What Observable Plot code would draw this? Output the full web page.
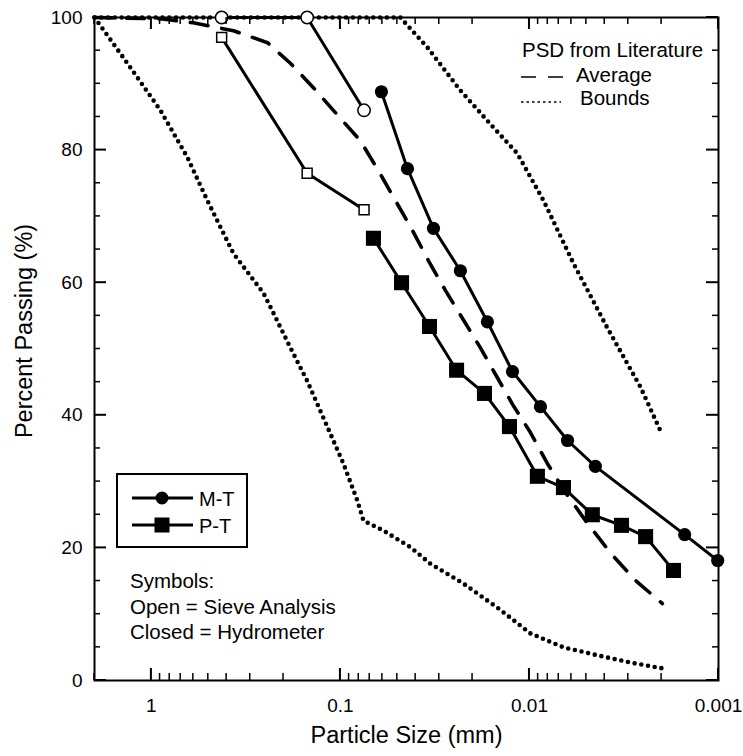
<!DOCTYPE html>
<html>
<head>
<meta charset="utf-8">
<script src="https://cdn.jsdelivr.net/npm/d3@7"></script>
<script src="https://cdn.jsdelivr.net/npm/@observablehq/plot@0.6"></script>
<style>
  html, body { margin: 0; padding: 0; background: #fff; }
  #chart svg { display: block; }
</style>
</head>
<body>
<div id="chart"></div>
<script>
// Particle size distribution: sieve (open) and hydrometer (closed) results
// for two soils, against the average and bounds reported in the literature.

// Sieve analysis (mm, % passing)
const sieveSize = [0.425, 0.15, 0.075];
const mtSieve = [100, 100, 86];
const ptSieve = [97, 76.5, 71];

// Hydrometer analysis
const mtHydroSize = [0.0607, 0.0442, 0.0322, 0.0232, 0.0167, 0.0123, 0.00875, 0.00629, 0.00448, 0.00151, 0.00101];
const mtHydro = [88.8, 77.2, 68.2, 61.8, 54.1, 46.6, 41.3, 36.2, 32.3, 22.0, 18.1];
const ptHydroSize = [0.0669, 0.0475, 0.0338, 0.0243, 0.0173, 0.01276, 0.00908, 0.00661, 0.00465, 0.00326, 0.00243, 0.00173];
const ptHydro = [66.7, 60.0, 53.4, 46.8, 43.3, 38.3, 30.8, 29.1, 25.0, 23.4, 21.7, 16.6];

// Literature PSD: average curve
const avgSize = [2, 0.896, 0.6, 0.368, 0.243, 0.184, 0.139, 0.109, 0.0784, 0.063, 0.0512, 0.0416, 0.0342, 0.0278, 0.0226, 0.0182, 0.0148, 0.0122, 0.00988, 0.00803, 0.00629, 0.00493, 0.00372, 0.00275, 0.00198];
const avgPct = [100, 99.8, 99.2, 98.0, 96.2, 93.1, 89.4, 86.0, 81.4, 76.9, 72.4, 67.9, 63.3, 58.8, 54.6, 50.2, 45.7, 41.5, 37.4, 32.7, 27.9, 23.7, 19.2, 15.1, 11.6];

// Literature PSD: lower (coarse) and upper (fine) bounds
const lowerSize = [2, 1.34, 0.896, 0.645, 0.506, 0.368, 0.255, 0.226, 0.184, 0.15, 0.117, 0.0964, 0.0813, 0.0755, 0.0592, 0.0426, 0.0334, 0.0223, 0.0148, 0.00988, 0.00661, 0.00437, 0.00292, 0.00195];
const lowerPct = [100, 93.1, 86.0, 78.9, 72.4, 64.4, 58.4, 55.4, 50.2, 45.2, 38.2, 32.7, 27.1, 24.1, 22.6, 20.1, 17.6, 14.6, 11.0, 7.1, 5.0, 3.8, 2.7, 1.8];
const upperSize = [2, 0.0482, 0.0347, 0.0232, 0.0155, 0.0116, 0.00843, 0.00585, 0.00386, 0.00259, 0.00198];
const upperPct = [100, 100, 95.5, 89.0, 83.4, 79.5, 72.4, 62.9, 53.1, 44.3, 37.0];

// Axis ticks
const xTickLabels = [1, 0.1, 0.01, 0.001];
const yTickLabels = [0, 20, 40, 60, 80, 100];

const zip = (xs, ys) => xs.map((x, i) => ({size: x, pct: ys[i]}));

const W = 743, H = 756;
const mL = 94, mR = 25, mT = 17, mB = 76;
const FONT = "'Liberation Sans', Arial, Helvetica, sans-serif";

// Log-decade minor ticks within the x domain; 5 % steps on y
const xMinor = [];
for (let n = -3; n <= 0; n++) for (let k = 2; k <= 9; k++) {
  const v = k * Math.pow(10, n);
  if (v <= 2) xMinor.push(v);
}
const yMinor = d3.range(0, 101, 5).filter(v => v % 20 !== 0);

const black = "#000";

const plot = Plot.plot({
  width: W,
  height: H,
  marginLeft: mL, marginRight: mR, marginTop: mT, marginBottom: mB,
  style: {fontFamily: FONT, color: black, background: "#fff"},
  x: {type: "log", domain: [2, 0.001]},
  y: {domain: [0, 100]},
  marks: [
    Plot.axisX({ticks: xTickLabels, tickSize: 0, tickPadding: 18, fontSize: 19,
      tickFormat: d => String(d), label: null}),
    Plot.axisY({ticks: yTickLabels, tickSize: 0, tickPadding: 12, fontSize: 19, label: null}),

    // literature bounds and average
    Plot.line(zip(lowerSize, lowerPct), {x: "size", y: "pct", stroke: black, strokeWidth: 4.6,
      strokeDasharray: "0,6.8", strokeLinecap: "round"}),
    Plot.line(zip(upperSize, upperPct), {x: "size", y: "pct", stroke: black, strokeWidth: 4.6,
      strokeDasharray: "0,6.8", strokeLinecap: "round"}),
    Plot.line(zip(avgSize, avgPct), {x: "size", y: "pct", stroke: black, strokeWidth: 3.6,
      strokeDasharray: "18,14"}),

    // measured curves
    Plot.line(zip(sieveSize, mtSieve), {x: "size", y: "pct", stroke: black, strokeWidth: 3}),
    Plot.line(zip(sieveSize, ptSieve), {x: "size", y: "pct", stroke: black, strokeWidth: 3}),
    Plot.line(zip(mtHydroSize, mtHydro), {x: "size", y: "pct", stroke: black, strokeWidth: 3}),
    Plot.line(zip(ptHydroSize, ptHydro), {x: "size", y: "pct", stroke: black, strokeWidth: 3}),

    Plot.frame({stroke: black, strokeWidth: 2}),

    Plot.dot(zip(sieveSize, mtSieve), {x: "size", y: "pct", r: 6.2, fill: "#fff", stroke: black, strokeWidth: 1.5}),
    Plot.dot(zip(sieveSize, ptSieve), {x: "size", y: "pct", symbol: "square", r: 5.6, fill: "#fff", stroke: black, strokeWidth: 1.5}),
    Plot.dot(zip(mtHydroSize, mtHydro), {x: "size", y: "pct", r: 6.6, fill: black}),
    Plot.dot(zip(ptHydroSize, ptHydro), {x: "size", y: "pct", symbol: "square", r: 8.5, fill: black}),

    // axis titles
    Plot.text(["Particle Size (mm)"], {frameAnchor: "bottom", dy: 62, fontSize: 23.5, fill: black}),
    Plot.text(["Percent Passing (%)"], {frameAnchor: "left", textAnchor: "middle", dx: -70, dy: -18,
      rotate: -90, fontSize: 23.5, fill: black})
  ]
});

document.getElementById("chart").appendChild(plot);

const svg = d3.select(plot);
const sx = plot.scale("x"), sy = plot.scale("y");
const frameL = mL, frameR = W - mR, frameT = mT, frameB = H - mB;

// Inward ticks on all four sides, placed with the plot's own scales
const ticks = svg.append("g").attr("stroke", black);
const tick = (x1, y1, x2, y2, w) =>
  ticks.append("line").attr("x1", x1).attr("y1", y1).attr("x2", x2).attr("y2", y2).attr("stroke-width", w);
xTickLabels.forEach(v => { const x = sx.apply(v); tick(x, frameB, x, frameB - 12, 2); tick(x, frameT, x, frameT + 12, 2); });
xMinor.forEach(v => { const x = sx.apply(v); tick(x, frameB, x, frameB - 7, 1.5); tick(x, frameT, x, frameT + 7, 1.5); });
yTickLabels.forEach(v => { const y = sy.apply(v); tick(frameL, y, frameL + 12, y, 2); tick(frameR, y, frameR - 12, y, 2); });
yMinor.forEach(v => { const y = sy.apply(v); tick(frameL, y, frameL + 6, y, 1.5); tick(frameR, y, frameR - 6, y, 1.5); });

// Legends drawn on top of the plot
const g = svg.append("g").attr("font-family", FONT).attr("fill", black).attr("text-anchor", "start");

// series legend (bottom-left box)
g.append("rect").attr("x", 117).attr("y", 474).attr("width", 130).attr("height", 73)
  .attr("fill", "#fff").attr("stroke", black).attr("stroke-width", 2);
[["M-T", 498, "circle"], ["P-T", 525, "square"]].forEach(([name, y, shape]) => {
  g.append("line").attr("x1", 132).attr("x2", 193).attr("y1", y).attr("y2", y)
    .attr("stroke", black).attr("stroke-width", 3);
  if (shape === "circle") {
    g.append("circle").attr("cx", 162).attr("cy", y).attr("r", 6.5).attr("fill", black);
  } else {
    g.append("rect").attr("x", 162 - 7.5).attr("y", y - 7.5).attr("width", 15).attr("height", 15).attr("fill", black);
  }
  g.append("text").attr("x", 199).attr("y", y + 7.5).attr("font-size", 20).text(name);
});

// symbol key
[["Symbols:", 588], ["Open = Sieve Analysis", 614], ["Closed = Hydrometer", 639]].forEach(([t, y]) => {
  g.append("text").attr("x", 130).attr("y", y).attr("font-size", 20.5).text(t);
});

// literature legend (top-right)
g.append("text").attr("x", 522).attr("y", 57).attr("font-size", 20.5).text("PSD from Literature");
g.append("line").attr("x1", 521).attr("x2", 564).attr("y1", 77).attr("y2", 77)
  .attr("stroke", black).attr("stroke-width", 1.5).attr("stroke-dasharray", "15,12");
g.append("text").attr("x", 576).attr("y", 82).attr("font-size", 20.5).text("Average");
g.append("line").attr("x1", 521).attr("x2", 561).attr("y1", 102).attr("y2", 102)
  .attr("stroke", black).attr("stroke-width", 1.3).attr("stroke-dasharray", "2.5,3");
g.append("text").attr("x", 580).attr("y", 105).attr("font-size", 20.5).text("Bounds");
</script>
</body>
</html>
